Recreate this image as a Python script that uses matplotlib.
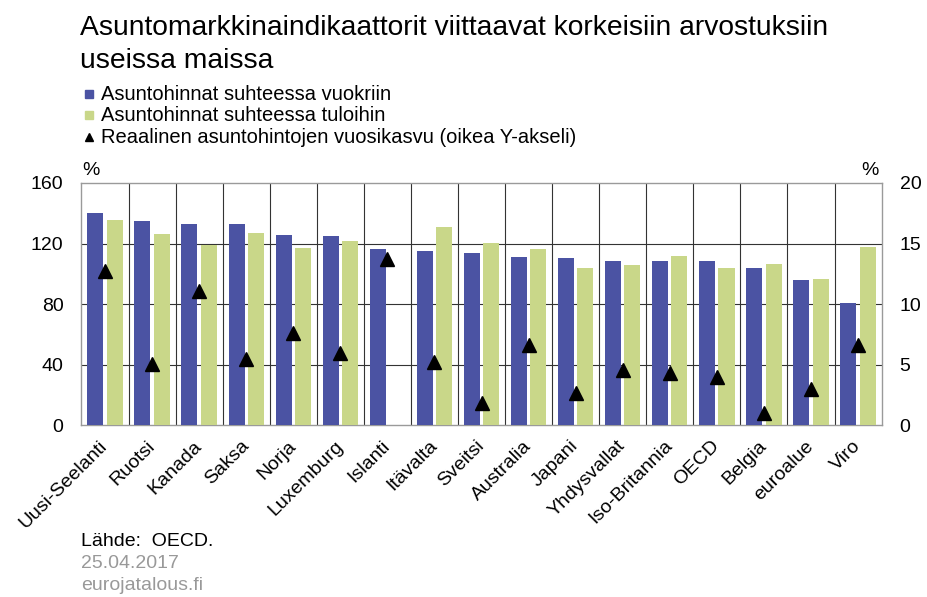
import matplotlib
matplotlib.use("Agg")
import matplotlib.pyplot as plt
import numpy as np
from matplotlib.lines import Line2D

plt.rcParams['font.family'] = ['Liberation Sans', 'DejaVu Sans']

countries = ["Uusi-Seelanti", "Ruotsi", "Kanada", "Saksa", "Norja", "Luxemburg",
             "Islanti", "Itävalta", "Sveitsi", "Australia", "Japani", "Yhdysvallat",
             "Iso-Britannia", "OECD", "Belgia", "euroalue", "Viro"]
price_to_rent = [140, 134.7, 133.2, 133.2, 125.5, 124.8, 116.2, 115.1, 114, 111,
                 110.3, 108.7, 108.7, 108.3, 103.9, 96, 80.5]
price_to_income = [135.4, 126.1, 119.3, 127.2, 116.9, 121.5, np.nan, 130.8, 120.2,
                   116.6, 103.9, 105.7, 111.6, 103.9, 106.7, 96.4, 117.8]
real_growth = [12.7, 5.1, 11.1, 5.45, 7.6, 5.95, 13.7, 5.2, 1.8, 6.6, 2.7, 4.55,
               4.3, 4.0, 1.0, 3.0, 6.6]

left_ticks = [0, 40, 80, 120, 160]
right_ticks = [0, 5, 10, 15, 20]

blue = "#4B53A3"
green = "#C9D789"
FS = 14

fig = plt.figure(figsize=(9.27, 5.97), dpi=100)
ax = fig.add_axes([0.0879, 0.2876, 0.951 - 0.0879, 0.6935 - 0.2876])
x = np.arange(len(countries))
w = 0.34
ax.bar(x - 0.205, price_to_rent, width=w, color=blue, zorder=3)
ax.bar(x + 0.205, price_to_income, width=w, color=green, zorder=3)
ax.set_xlim(-0.5, len(countries) - 0.5)
ax.set_ylim(0, 160)
ax.set_yticks(left_ticks)
ax.set_yticklabels([str(t) for t in left_ticks])
for yv in left_ticks[1:-1]:
    ax.axhline(yv, color="#333333", lw=0.8, zorder=1)
for xv in np.arange(0.5, len(countries) - 0.5, 1):
    ax.axvline(xv, color="#333333", lw=0.8, zorder=1)
ax.set_xticks(x)
ax.set_xticklabels(countries, rotation=45, ha='right', va='center',
                   rotation_mode='anchor', fontsize=FS)
ax.tick_params(axis='both', length=0, labelsize=FS)
ax.tick_params(axis='x', pad=13)
ax.tick_params(axis='y', pad=13)
for s in ax.spines.values():
    s.set_color("#9a9a9a")
    s.set_linewidth(1.0)

ax2 = ax.twinx()
ax2.set_ylim(0, 20)
ax2.set_yticks(right_ticks)
ax2.set_yticklabels([str(t) for t in right_ticks])
ax2.tick_params(axis='y', length=0, labelsize=FS, pad=13)
ax2.plot(x, real_growth, linestyle='none', marker='^', color='black', markersize=10, zorder=5)
for s in ax2.spines.values():
    s.set_visible(False)

# Title
fig.text(80 / 927, 1 - 35 / 597, "Asuntomarkkinaindikaattorit viittaavat korkeisiin arvostuksiin",
         fontsize=20.3, va='baseline', ha='left')
fig.text(80 / 927, 1 - 68 / 597, "useissa maissa", fontsize=20.3, va='baseline', ha='left')

# Legend
leg_items = [("s", blue, "Asuntohinnat suhteessa vuokriin", 100),
             ("s", green, "Asuntohinnat suhteessa tuloihin", 121),
             ("^", "black", "Reaalinen asuntohintojen vuosikasvu (oikea Y-akseli)", 143)]
for mk, col, lab, ypx in leg_items:
    fig.add_artist(Line2D([89 / 927], [1 - (ypx - 6) / 597], marker=mk, color=col,
                          markersize=6 if mk == "s" else 6, linestyle='none',
                          transform=fig.transFigure))
    fig.text(101 / 927, 1 - ypx / 597, lab, fontsize=14.5, va='baseline', ha='left')

# % labels
fig.text(82 / 927, 1 - 175 / 597, "%", fontsize=FS, va='baseline', ha='left')
fig.text(879 / 927, 1 - 175 / 597, "%", fontsize=FS, va='baseline', ha='right')

# Footer
fig.text(81 / 927, 1 - 546 / 597, "Lähde:  OECD.", fontsize=FS, va='baseline', ha='left')
fig.text(81 / 927, 1 - 568 / 597, "25.04.2017", fontsize=FS, va='baseline', ha='left', color='#999999')
fig.text(81 / 927, 1 - 590 / 597, "eurojatalous.fi", fontsize=FS, va='baseline', ha='left', color='#999999')

fig.savefig("out.png", dpi=100)
